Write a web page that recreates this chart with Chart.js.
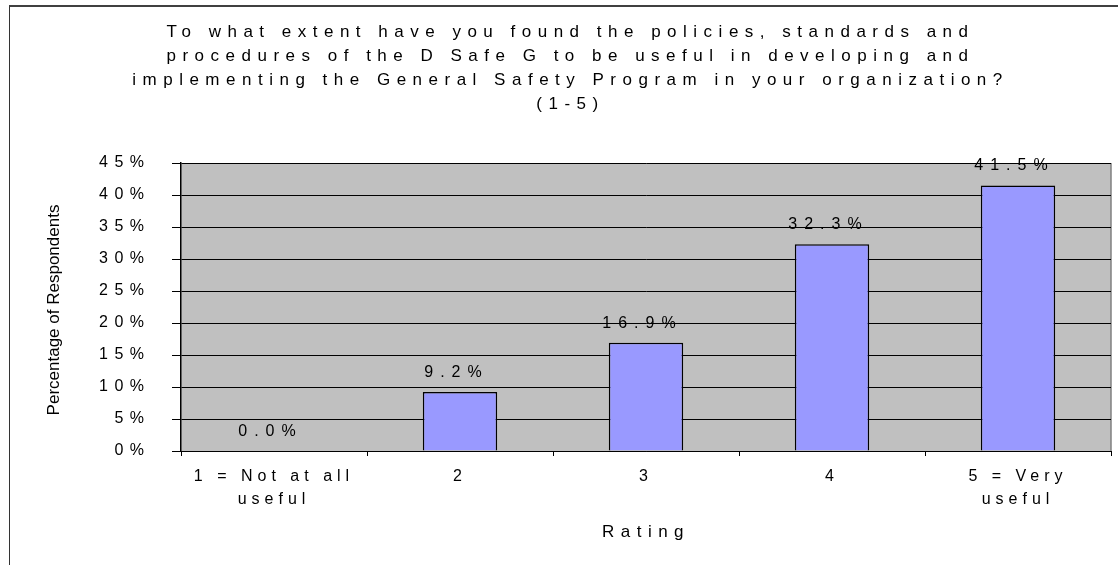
<!DOCTYPE html>
<html>
<head>
<meta charset="utf-8">
<script src="https://cdn.jsdelivr.net/npm/chart.js@4.4.1/dist/chart.umd.min.js"></script>
<style>
  html, body { margin: 0; padding: 0; background: #fff; }
  #wrap { position: relative; width: 1118px; height: 565px; overflow: hidden; }
  #frame {
    position: absolute; left: 9px; top: 5px; width: 1120px; height: 580px;
    border-left: 1.5px solid #333; border-top: 2px solid #404040;
  }
  canvas { position: absolute; left: 0; top: 0; }
</style>
</head>
<body>
<div id="wrap">
  <div id="frame"></div>
  <canvas id="ratingChart" width="1118" height="565"></canvas>
</div>
<script>
const FONT = '"Liberation Sans", Arial, sans-serif';

// survey results
const titleLines = [
  'To what extent have you found the policies, standards and',
  'procedures of the D Safe G to be useful in developing and',
  'implementing the General Safety Program in your organization?',
  '(1-5)'
];
const ratings = [['1 = Not at all', 'useful'], '2', '3', '4', ['5 = Very', 'useful']];
const shares = [0.0, 9.2, 16.9, 32.3, 41.5];
const yMax = 45;
const yStep = 5;
const xTitle = 'Rating';
const yTitle = 'Percentage of Respondents';

// draws spaced text whose right edge sits at x
function fillSpacedRight(ctx, text, x, y, spacing) {
  ctx.letterSpacing = '0px';
  const w = ctx.measureText(text).width + (text.length - 1) * spacing;
  ctx.letterSpacing = spacing + 'px';
  ctx.textAlign = 'left';
  ctx.fillText(text, x - w, y);
}

// gray plot area, spaced-out lettering, value labels, y labels and title
const sheetStyle = {
  id: 'sheetStyle',
  beforeDraw(chart) {
    const { ctx, chartArea: a } = chart;
    ctx.save();
    ctx.fillStyle = '#C0C0C0';
    ctx.fillRect(a.left, a.top, a.right - a.left, a.bottom - a.top);
    ctx.strokeStyle = '#808080';
    ctx.lineWidth = 1.5;
    ctx.beginPath();
    ctx.moveTo(a.right, a.top);
    ctx.lineTo(a.right, a.bottom);
    ctx.stroke();
    ctx.restore();
    ctx.letterSpacing = '6.5px';
  },
  afterDatasetsDraw(chart) {
    const ctx = chart.ctx;
    const meta = chart.getDatasetMeta(0);
    ctx.save();
    ctx.letterSpacing = '7px';
    ctx.font = '16px ' + FONT;
    ctx.fillStyle = '#000';
    ctx.textAlign = 'center';
    ctx.textBaseline = 'alphabetic';
    meta.data.forEach((bar, i) => {
      ctx.fillText(shares[i].toFixed(1) + '%', bar.x - 3.5, bar.y - 15);
    });
    ctx.restore();
    ctx.letterSpacing = '5px';
  },
  afterDraw(chart) {
    const ctx = chart.ctx;
    const y = chart.scales.y;

    // percentage labels beside the tick marks
    ctx.save();
    ctx.font = '16px ' + FONT;
    ctx.fillStyle = '#000';
    ctx.textBaseline = 'middle';
    y.ticks.forEach(t => {
      fillSpacedRight(ctx, t.value + '%', y.right - 37, y.getPixelForValue(t.value), 6.5);
    });
    ctx.restore();

    ctx.save();
    ctx.letterSpacing = '0px';
    ctx.font = '17px ' + FONT;
    ctx.fillStyle = '#000';
    ctx.textAlign = 'center';
    ctx.textBaseline = 'middle';
    ctx.translate(54, 310);
    ctx.rotate(-Math.PI / 2);
    ctx.fillText(yTitle, 0, 0);
    ctx.restore();
  }
};

new Chart(document.getElementById('ratingChart'), {
  type: 'bar',
  data: {
    labels: ratings,
    datasets: [{
      data: shares,
      backgroundColor: '#9999FF',
      borderColor: '#000',
      borderWidth: 1.5,
      barPercentage: 0.4,
      categoryPercentage: 1.0
    }]
  },
  options: {
    responsive: false,
    animation: false,
    layout: { padding: { left: 30, right: 7, top: 0, bottom: 0 } },
    plugins: {
      legend: { display: false },
      tooltip: { enabled: false },
      title: {
        display: true,
        text: titleLines,
        color: '#000',
        font: { family: FONT, size: 17, weight: 'normal', lineHeight: 24 / 17 },
        padding: { top: 20, bottom: 47 }
      }
    },
    scales: {
      x: {
        afterFit(scale) { scale.height = 114; },
        grid: {
          offset: true,
          drawOnChartArea: false,
          drawTicks: true,
          tickLength: 5,
          color: '#000'
        },
        border: { color: '#000', width: 1 },
        ticks: {
          z: 1,
          color: '#000',
          padding: 9,
          maxRotation: 0,
          autoSkip: false,
          font: { family: FONT, size: 16, lineHeight: 23 / 16 }
        },
        title: {
          display: true,
          text: xTitle,
          color: '#000',
          font: { family: FONT, size: 17 },
          padding: { top: 0, bottom: 22.7 }
        }
      },
      y: {
        min: 0,
        max: yMax,
        afterFit(scale) { scale.width = 151; },
        grid: { color: '#000', lineWidth: 1, tickLength: 9 },
        border: { color: '#000', width: 1.5 },
        ticks: {
          display: false,
          stepSize: yStep
        }
      }
    }
  },
  plugins: [sheetStyle]
});
</script>
</body>
</html>
